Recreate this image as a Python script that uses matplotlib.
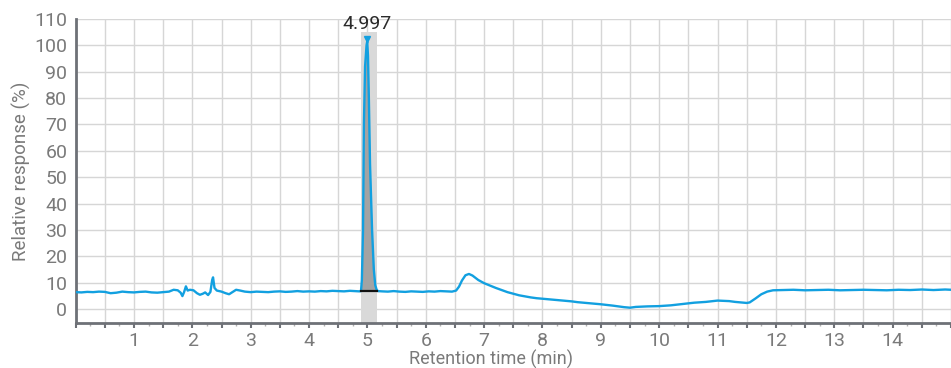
import matplotlib
matplotlib.use("Agg")
import matplotlib.pyplot as plt
from matplotlib.ticker import MultipleLocator, FuncFormatter
import numpy as np

plt.rcParams['font.family'] = ['Roboto', 'DejaVu Sans']

# Retention time (min) and relative response (%) of the trace
time_min = [
    0.00, 0.10, 0.20, 0.30, 0.40, 0.50, 0.60, 0.70, 0.80, 0.90,
    1.00, 1.10, 1.20, 1.30, 1.40, 1.50, 1.60, 1.68, 1.75, 1.80,
    1.83, 1.86, 1.89, 1.92, 1.96, 2.02, 2.08, 2.13, 2.18, 2.22,
    2.27, 2.31, 2.34, 2.355, 2.38, 2.42, 2.50, 2.57, 2.63, 2.68,
    2.75, 2.82, 2.90, 3.00, 3.10, 3.20, 3.30, 3.40, 3.50, 3.60,
    3.70, 3.80, 3.90, 4.00, 4.10, 4.20, 4.30, 4.40, 4.50, 4.60,
    4.70, 4.80, 4.86, 4.89, 4.905, 4.925, 4.94, 4.96, 4.985, 4.997,
    5.01, 5.025, 5.045, 5.08, 5.11, 5.135, 5.16, 5.18, 5.25, 5.35,
    5.45, 5.55, 5.65, 5.75, 5.85, 5.95, 6.05, 6.15, 6.25, 6.35,
    6.45, 6.52, 6.57, 6.62, 6.68, 6.74, 6.80, 6.90, 7.00, 7.10,
    7.20, 7.30, 7.40, 7.50, 7.60, 7.70, 7.80, 7.90, 8.00, 8.20,
    8.40, 8.50, 8.60, 8.80, 9.00, 9.20, 9.40, 9.50, 9.60, 9.80,
    10.00, 10.20, 10.40, 10.60, 10.80, 11.00, 11.10, 11.20, 11.30, 11.40,
    11.50, 11.55, 11.65, 11.75, 11.85, 11.95, 12.10, 12.30, 12.50, 12.70,
    12.90, 13.10, 13.30, 13.50, 13.70, 13.90, 14.10, 14.30, 14.50, 14.70,
    14.90, 15.00,
]
response_pct = [
    6.4, 6.3, 6.5, 6.4, 6.6, 6.5, 6.0, 6.2, 6.6, 6.4,
    6.3, 6.5, 6.6, 6.3, 6.2, 6.4, 6.6, 7.3, 7.1, 6.2,
    4.9, 6.5, 8.6, 7.0, 7.3, 7.1, 6.0, 5.4, 5.8, 6.3,
    5.3, 6.5, 11.0, 12.0, 8.0, 7.0, 6.6, 6.0, 5.6, 6.3,
    7.3, 7.0, 6.6, 6.4, 6.6, 6.5, 6.4, 6.6, 6.7, 6.5,
    6.6, 6.8, 6.6, 6.7, 6.6, 6.8, 6.7, 6.9, 6.8, 6.7,
    6.9, 6.8, 6.7, 6.8, 11.0, 30.0, 70.0, 92.0, 100.0, 101.5,
    96.0, 80.0, 55.0, 30.0, 15.0, 9.0, 7.2, 6.8, 6.7, 6.6,
    6.8, 6.6, 6.5, 6.7, 6.6, 6.5, 6.7, 6.6, 6.8, 6.7,
    6.6, 7.0, 8.5, 10.8, 12.8, 13.3, 12.7, 11.0, 9.8, 8.9,
    8.0, 7.2, 6.4, 5.8, 5.2, 4.8, 4.4, 4.1, 3.9, 3.5,
    3.1, 2.9, 2.6, 2.2, 1.8, 1.3, 0.7, 0.5, 0.8, 1.0,
    1.1, 1.4, 1.9, 2.4, 2.7, 3.2, 3.1, 3.0, 2.7, 2.5,
    2.3, 2.5, 4.0, 5.6, 6.6, 7.1, 7.2, 7.3, 7.1, 7.2,
    7.3, 7.1, 7.2, 7.3, 7.2, 7.1, 7.3, 7.2, 7.4, 7.2,
    7.4, 7.3,
]

# Integrated peak
peak_rt = 4.997
peak_height = 101.5
peak_start, peak_end = 4.89, 5.17
peak_baseline = 6.8

x_ticks = list(range(1, 15))
y_ticks = list(range(0, 111, 10))

line_color = '#12a0e0'
text_gray = '#7a7a7a'
grid_color = '#d6d6d6'
spine_color = '#6e7177'

fig = plt.figure(figsize=(9.51, 3.68), dpi=100)
ax = fig.add_axes([0.0795, 0.1223, 0.9205, 0.8261])
ax.set_xlim(0, 15)
ax.set_ylim(-5.3, 110)

t = np.array(time_min)
r = np.array(response_pct)

# Peak window band and integrated area
ax.fill_between([peak_start, peak_end], -5.3, 105.2, color='#d9d9d9', lw=0, zorder=1)
mask = (t >= peak_start) & (t <= peak_end)
tp = np.concatenate([[peak_start], t[mask], [peak_end]])
rp = np.concatenate([[peak_baseline], r[mask], [peak_baseline]])
ax.fill_between(tp, peak_baseline, rp, color='#a3a3a3', lw=0, zorder=2)
ax.plot([peak_start, peak_end], [peak_baseline, peak_baseline], color='#111111', lw=1.6, zorder=4)

ax.plot(t, r, color=line_color, lw=1.7, zorder=3)
ax.plot([peak_rt], [peak_height + 0.8], marker='v', color=line_color, ms=5, zorder=5)
ax.text(peak_rt, peak_height + 3.3, f"{peak_rt:.3f}", ha='center', va='bottom',
        fontsize=14, color='#2b2b2b', zorder=6)

# Axes styling
for side in ('top', 'right'):
    ax.spines[side].set_visible(False)
for side in ('left', 'bottom'):
    ax.spines[side].set_color(spine_color)
    ax.spines[side].set_linewidth(2)

ax.xaxis.set_major_locator(MultipleLocator(0.5))
ax.xaxis.set_minor_locator(MultipleLocator(0.25))
ax.xaxis.set_major_formatter(FuncFormatter(
    lambda v, p: str(int(round(v))) if abs(v - round(v)) < 1e-6 and int(round(v)) in x_ticks else ''))
ax.set_yticks(y_ticks)
ax.grid(True, which='major', color=grid_color, lw=1, zorder=0)
ax.set_axisbelow(True)

ax.tick_params(axis='x', which='major', length=3.5, width=1.5, color=spine_color,
               labelsize=14, labelcolor=text_gray, pad=3)
ax.tick_params(axis='x', which='minor', length=2, width=1, color='#b0b0b0')
ax.tick_params(axis='y', length=0, labelsize=14, labelcolor=text_gray, pad=6)

ax.set_xlabel('Retention time (min)', fontsize=13, color=text_gray)
ax.xaxis.set_label_coords(0.4745, -0.087)
ax.set_ylabel('Relative response (%)', fontsize=13.5, color=text_gray)
ax.yaxis.set_label_coords(-0.051, 0.5)

fig.savefig('out.png', dpi=100)
